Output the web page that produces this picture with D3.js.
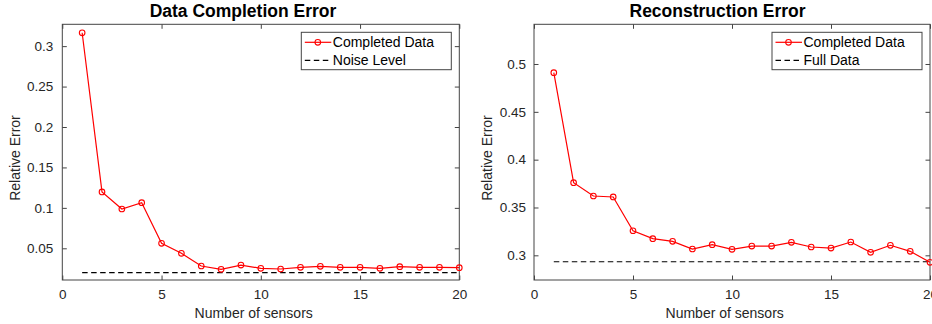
<!DOCTYPE html>
<html>
<head>
<meta charset="utf-8">
<script src="https://cdn.jsdelivr.net/npm/d3@7"></script>
<style>
  html, body { margin: 0; padding: 0; background: #fff; }
  svg { display: block; font-family: "Liberation Sans", Arial, Helvetica, sans-serif; }
</style>
</head>
<body>
<svg id="chart" width="932" height="324"></svg>
<script>
// Number of sensors (shared x values)
const sensors = [1,2,3,4,5,6,7,8,9,10,11,12,13,14,15,16,17,18,19,20];

// Left panel: data completion error
const completionError = [0.3165,0.1197,0.0986,0.1064,0.0562,0.0438,0.0281,0.0240,0.0293,0.0252,
                         0.0244,0.0265,0.0277,0.0265,0.0265,0.0252,0.0273,0.0265,0.0265,0.0261];
const noiseLevel = 0.0198;
const leftYTicks = [0.05,0.1,0.15,0.2,0.25,0.3];
const leftYDomain = [0.0108, 0.327];

// Right panel: reconstruction error
const reconstructionError = [0.4909,0.3759,0.3620,0.3610,0.3257,0.3174,0.3146,0.3066,0.3111,0.3063,
                             0.3097,0.3097,0.3136,0.3087,0.3076,0.3139,0.3031,0.3105,0.3042,0.2927];
const fullDataLevel = 0.2933;
const rightYTicks = [0.3,0.35,0.4,0.45,0.5];
const rightYDomain = [0.2742, 0.5415];

const xTicks = [0,5,10,15,20];
const xDomain = [0, 20];

const svg = d3.select("#chart");
const axisColor = "#444";
const textColor = "#262626";
const red = "#ff0000";

function panel(opts) {
  const { left, right, top, bottom, title, titleX, xLabelX, values, level, yTicks, yDomain,
          levelLabel, yPad } = opts;
  const x = d3.scaleLinear().domain(xDomain).range([left, right]);
  const y = d3.scaleLinear().domain(yDomain).range([bottom, top]);
  const g = svg.append("g");

  const clipId = "clip" + Math.round(left);
  g.append("clipPath").attr("id", clipId)
    .append("rect").attr("x", left - 4).attr("y", top).attr("width", right - left + 8).attr("height", bottom - top);

  // axes with inward ticks on all four sides
  const tl = 4.5;
  const bottomAxis = d3.axisBottom(x).tickValues(xTicks).tickSize(-tl).tickPadding(9.5).tickFormat(d3.format("d"));
  const topAxis = d3.axisTop(x).tickValues(xTicks).tickSize(-tl).tickFormat("");
  const leftAxis = d3.axisLeft(y).tickValues(yTicks).tickSize(-tl).tickPadding(yPad).tickFormat(d => String(d));
  const rightAxis = d3.axisRight(y).tickValues(yTicks).tickSize(-tl).tickFormat("");

  const styleAxis = sel => {
    sel.select(".domain").remove();
    sel.selectAll(".tick line").attr("stroke", axisColor).attr("stroke-width", 1);
    sel.selectAll("text").attr("fill", textColor).style("font-size", "13.5px")
      .style("font-family", "'Liberation Sans', Arial, sans-serif");
  };
  g.append("g").attr("transform", `translate(0,${bottom})`).call(bottomAxis).call(styleAxis);
  g.append("g").attr("transform", `translate(0,${top})`).call(topAxis).call(styleAxis);
  g.append("g").attr("transform", `translate(${left},0)`).call(leftAxis).call(styleAxis);
  g.append("g").attr("transform", `translate(${right},0)`).call(rightAxis).call(styleAxis);

  g.append("rect").attr("x", left).attr("y", top).attr("width", right - left).attr("height", bottom - top)
    .attr("fill", "none").attr("stroke", axisColor).attr("stroke-width", 1);

  const plot = g.append("g").attr("clip-path", `url(#${clipId})`);

  // reference level
  plot.append("line")
    .attr("x1", x(sensors[0])).attr("x2", x(sensors[sensors.length - 1]))
    .attr("y1", y(level)).attr("y2", y(level))
    .attr("stroke", "#000").attr("stroke-width", 1.2).attr("stroke-dasharray", "5.5,3.5");

  const line = d3.line().x((d, i) => x(sensors[i])).y(d => y(d));
  plot.append("path").datum(values).attr("d", line)
    .attr("fill", "none").attr("stroke", red).attr("stroke-width", 1.2);
  svg.append("g").selectAll("circle").data(values).join("circle")
    .attr("cx", (d, i) => x(sensors[i])).attr("cy", d => y(d)).attr("r", 2.8)
    .attr("fill", "none").attr("stroke", red).attr("stroke-width", 1.1);

  // title and axis labels
  svg.append("text").attr("x", titleX).attr("y", 17).attr("text-anchor", "middle")
    .style("font-size", "17.5px").style("font-weight", "bold").attr("fill", "#000").text(title);
  svg.append("text").attr("x", xLabelX).attr("y", 318).attr("text-anchor", "middle")
    .style("font-size", "14px").attr("fill", textColor).text("Number of sensors");
  svg.append("text").attr("transform", `translate(${left - 42},158) rotate(-90)`)
    .attr("text-anchor", "middle").style("font-size", "14px").attr("fill", textColor).text("Relative Error");

  // legend
  const lx = right - 158, ly = 32.3, lw = 150, lh = 37.4;
  const lg = svg.append("g");
  lg.append("rect").attr("x", lx).attr("y", ly).attr("width", lw).attr("height", lh)
    .attr("fill", "#fff").attr("stroke", axisColor).attr("stroke-width", 1);
  const r1 = ly + 10, r2 = ly + 28;
  lg.append("line").attr("x1", lx + 3.5).attr("x2", lx + 30).attr("y1", r1).attr("y2", r1)
    .attr("stroke", red).attr("stroke-width", 1.2);
  lg.append("circle").attr("cx", lx + 16.5).attr("cy", r1).attr("r", 2.8)
    .attr("fill", "none").attr("stroke", red).attr("stroke-width", 1.1);
  lg.append("text").attr("x", lx + 31.5).attr("y", r1 + 5).style("font-size", "14px").attr("fill", "#000").text("Completed Data");
  lg.append("line").attr("x1", lx + 3.5).attr("x2", lx + 30).attr("y1", r2).attr("y2", r2)
    .attr("stroke", "#000").attr("stroke-width", 1.2).attr("stroke-dasharray", "5.5,3.5");
  lg.append("text").attr("x", lx + 31.5).attr("y", r2 + 5).style("font-size", "14px").attr("fill", "#000").text(levelLabel);
}

panel({ left: 62.3, right: 459.3, top: 24.3, bottom: 280, title: "Data Completion Error",
        titleX: 243, xLabelX: 253.7, values: completionError, level: noiseLevel,
        yTicks: leftYTicks, yDomain: leftYDomain, levelLabel: "Noise Level", yPad: 9 });
panel({ left: 534, right: 930, top: 24.3, bottom: 280, title: "Reconstruction Error",
        titleX: 717.5, xLabelX: 724.7, values: reconstructionError, level: fullDataLevel,
        yTicks: rightYTicks, yDomain: rightYDomain, levelLabel: "Full Data", yPad: 8 });
</script>
</body>
</html>
